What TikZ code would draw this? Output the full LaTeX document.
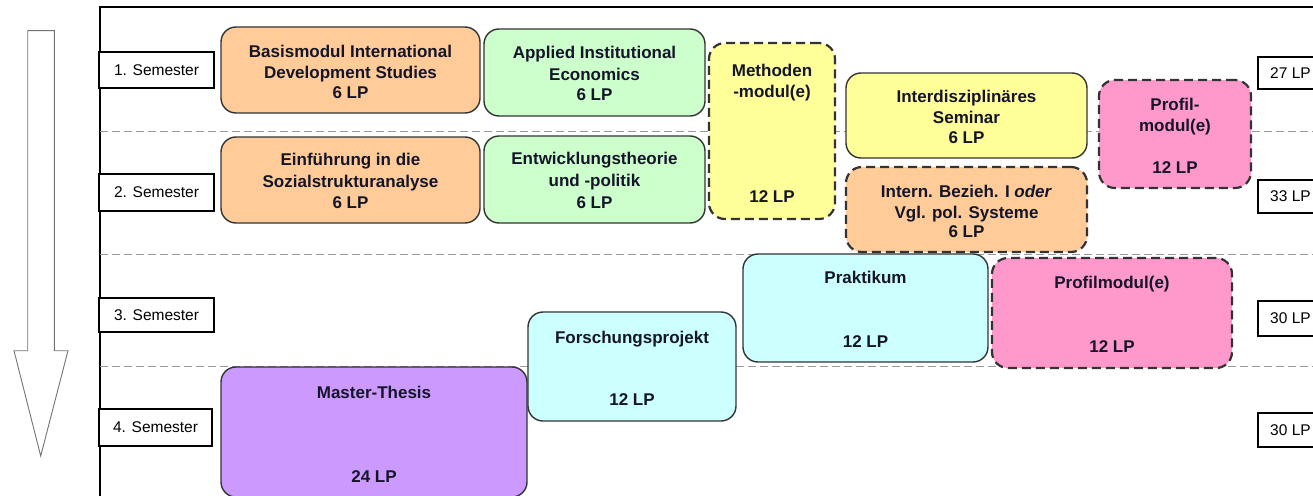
\documentclass[tikz,border=0pt]{standalone}
\usepackage{fontspec}
\setmainfont{Liberation Sans}
\usetikzlibrary{fit}
\definecolor{peach}{HTML}{FFCC99}
\definecolor{mint}{HTML}{CCFFCC}
\definecolor{lemon}{HTML}{FFFF99}
\definecolor{rose}{HTML}{FF99CC}
\definecolor{aqua}{HTML}{CCFFFF}
\definecolor{lilac}{HTML}{CC99FF}
\definecolor{edge}{HTML}{333333}
\definecolor{ink}{HTML}{15152A}
\begin{document}
\begin{tikzpicture}[x=1pt,y=-1pt,
  mod/.style={draw=edge, line width=1.4pt, rounded corners=15pt, inner sep=0pt},
  opt/.style={mod, dash pattern=on 9pt off 5pt, line width=2.2pt, rounded corners=16pt},
  lbl/.style={font=\bfseries\fontsize{17}{20}\selectfont, text=ink, inner sep=0pt, anchor=base},
  sem/.style={draw=black, line width=1.1pt, inner sep=0pt, font=\fontsize{15.5}{18}\selectfont},
  lp/.style={inner sep=0pt, anchor=west, font=\fontsize{15.5}{18}\selectfont},
  grid/.style={draw=black!40, dash pattern=on 8pt off 4pt, line width=0.9pt}]
\useasboundingbox (0,0) rectangle (1313,495);
\clip (0,0) rectangle (1313,495);
% time arrow
\draw[draw=black!55, line width=0.9pt, fill=white]
  (27.7,30.7) -- (54.3,30.7) -- (54.3,350.7) -- (68,350.7) -- (40.7,456)
  -- (14,350.7) -- (27.7,350.7) -- cycle;
% frame
\draw[line width=1.1pt] (100,500) -- (100,7) -- (1320,7);
% semester separators
\draw[grid] (100,131) -- (1320,131);
\draw[grid] (100,254) -- (1320,254);
\draw[grid] (100,366) -- (1320,366);
% semester labels
\node[sem, minimum width=115pt, minimum height=36pt, fill=white] (s1) at (156.5,70) {1. Semester};
\node[sem, minimum width=115pt, minimum height=37pt, fill=white] (s2) at (156.5,192.5) {2. Semester};
\node[sem, minimum width=115pt, minimum height=34pt, fill=white] (s3) at (156.5,315) {3. Semester};
\node[sem, minimum width=113pt, minimum height=37pt, fill=white] (s4) at (155.5,427.5) {4. Semester};
% LP sums
\node[sem, minimum width=72pt, minimum height=32pt, fill=white] (lp1) at (1294,73) {};
\node[lp] (lp1t) at (1270,73) {27 LP};
\node[sem, minimum width=72pt, minimum height=33pt, fill=white] (lp2) at (1294,196.5) {};
\node[lp] (lp2t) at (1270,196.5) {33 LP};
\node[sem, minimum width=72pt, minimum height=35pt, fill=white] (lp3) at (1294,318.5) {};
\node[lp] (lp3t) at (1270,318.5) {30 LP};
\node[sem, minimum width=72pt, minimum height=34pt, fill=white] (lp4) at (1294,430) {};
\node[lp] (lp4t) at (1270,430) {30 LP};
% semester 1/2 modules
\node[mod, fill=peach, fit={(221,27) (480,113)}] (basis) {};
\node[lbl] (basisA) at (350.5,57) {Basismodul International};
\node[lbl] (basisB) at (350.5,78) {Development Studies};
\node[lbl] (basisC) at (350.5,98) {6 LP};
\node[mod, fill=mint, fit={(484,29) (705,116)}] (aie) {};
\node[lbl] (aieA) at (594.5,59) {Applied Institutional};
\node[lbl] (aieB) at (594.5,80) {Economics};
\node[lbl] (aieC) at (594.5,100) {6 LP};
\node[mod, fill=peach, fit={(221,137) (480,223)}] (einf) {};
\node[lbl] (einfA) at (350.5,165) {Einführung in die};
\node[lbl] (einfB) at (350.5,187) {Sozialstrukturanalyse};
\node[lbl] (einfC) at (350.5,208) {6 LP};
\node[mod, fill=mint, fit={(484,136) (705,223)}] (entw) {};
\node[lbl] (entwA) at (594.5,164) {Entwicklungstheorie};
\node[lbl] (entwB) at (594.5,186) {und -politik};
\node[lbl] (entwC) at (594.5,208) {6 LP};
\node[opt, fill=lemon, fit={(709,43) (835,219)}] (meth) {};
\node[lbl] (methA) at (772,76) {Methoden};
\node[lbl] (methB) at (772,97) {-modul(e)};
\node[lbl] (methC) at (772,202) {12 LP};
\node[mod, fill=lemon, fit={(846,73) (1087,158)}] (inter) {};
\node[lbl] (interA) at (966.5,102) {Interdisziplinäres};
\node[lbl] (interB) at (966.5,123) {Seminar};
\node[lbl] (interC) at (966.5,143) {6 LP};
\node[opt, fill=peach, fit={(846,167) (1087,252)}] (ib) {};
\node[lbl] (ibA) at (966.5,197) {Intern. Bezieh. I \textit{oder}};
\node[lbl] (ibB) at (966.5,218) {Vgl. pol. Systeme};
\node[lbl] (ibC) at (966.5,237) {6 LP};
\node[opt, fill=rose, fit={(1099,80) (1251,188)}] (prof1) {};
\node[lbl] (prof1A) at (1175,110) {Profil-};
\node[lbl] (prof1B) at (1175,131) {modul(e)};
\node[lbl] (prof1C) at (1175,173) {12 LP};
% semester 3/4 modules
\node[mod, fill=aqua, fit={(743,254) (988,362)}] (prak) {};
\node[lbl] (prakA) at (865.5,283) {Praktikum};
\node[lbl] (prakB) at (865.5,347) {12 LP};
\node[opt, fill=rose, fit={(992,258) (1232,368)}] (prof2) {};
\node[lbl] (prof2A) at (1112,288) {Profilmodul(e)};
\node[lbl] (prof2B) at (1112,352) {12 LP};
\node[mod, fill=aqua, fit={(528,312) (736,421)}] (forsch) {};
\node[lbl] (forschA) at (632,343) {Forschungsprojekt};
\node[lbl] (forschB) at (632,405) {12 LP};
\node[mod, fill=lilac, fit={(221,367) (527,497)}] (thesis) {};
\node[lbl] (thesisA) at (374,398) {Master-Thesis};
\node[lbl] (thesisB) at (374,482) {24 LP};
\end{tikzpicture}
\end{document}
